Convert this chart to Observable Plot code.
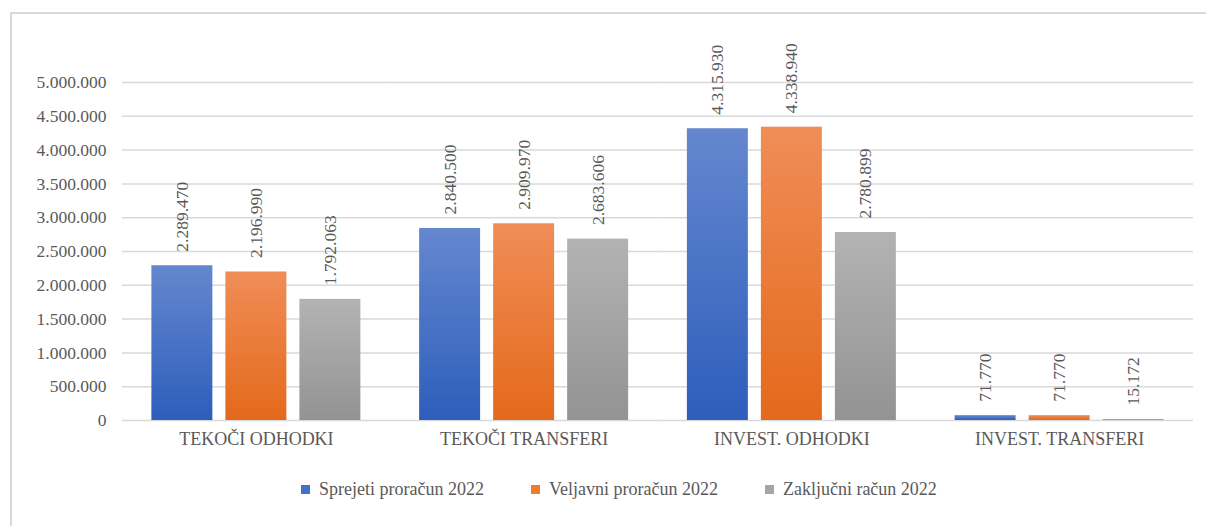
<!DOCTYPE html>
<html>
<head>
<meta charset="utf-8">
<script src="https://cdn.jsdelivr.net/npm/d3@7"></script>
<script src="https://cdn.jsdelivr.net/npm/@observablehq/plot@0.6"></script>
<style>
  html, body { margin: 0; padding: 0; background: #fff; overflow: hidden; width: 1206px; height: 526px; }
  #frame { position: absolute; left: 10px; top: 12px; width: 1400px; height: 700px;
           border-top: 2px solid #d9d9d9; border-left: 2px solid #d9d9d9; box-sizing: border-box; }
  #chart { position: absolute; left: 0; top: 0; }
  #chart svg, #chart svg text { font-family: 'Liberation Serif', 'Tinos', 'Times New Roman', serif !important; }
  #legend { position: absolute; left: 301px; top: 479px; display: flex; align-items: center;
            font-family: 'Liberation Serif', 'Tinos', 'Times New Roman', serif; font-size: 18px; color: #595959; }
  .item { display: flex; align-items: center; margin-right: 47px; }
  .sw { width: 9px; height: 9px; margin-right: 9px; }
</style>
</head>
<body>
<div id="frame"></div>
<div id="chart"></div>
<div id="legend"></div>
<script>
const categories = ["TEKOČI ODHODKI", "TEKOČI TRANSFERI", "INVEST. ODHODKI", "INVEST. TRANSFERI"];
const seriesNames = ["Sprejeti proračun 2022", "Veljavni proračun 2022", "Zaključni račun 2022"];
const sprejeti = [2289470, 2840500, 4315930, 71770];
const veljavni = [2196990, 2909970, 4338940, 71770];
const zakljucni = [1792063, 2683606, 2780899, 15172];
const yTicks = [0, 500000, 1000000, 1500000, 2000000, 2500000, 3000000, 3500000, 4000000, 4500000, 5000000];
const swatchColors = ["#4472c4", "#ed7d31", "#a5a5a5"];
const gradIds = ["gBlue", "gOrange", "gGray"];

const seriesValues = [sprejeti, veljavni, zakljucni];
const rows = [];
categories.forEach((c, i) => {
  seriesNames.forEach((s, j) => rows.push({cat: c, series: s, value: seriesValues[j][i]}));
});

const fmt = d3.formatLocale({decimal: ",", thousands: ".", grouping: [3], currency: ["", ""]}).format(",");
const textColor = "#595959";

const plot = Plot.plot({
  width: 1206,
  height: 460,
  marginLeft: 122,
  marginRight: 13,
  marginTop: 82,
  marginBottom: 40,
  style: {fontSize: "18px", color: textColor, background: "transparent"},
  fx: {domain: categories, padding: 0, round: false, axis: "bottom", label: null, tickSize: 0, tickPadding: 12},
  x: {domain: seriesNames, axis: null, round: false, paddingInner: 0.176, paddingOuter: 0.397},
  y: {domain: [0, 5000000], axis: null},
  color: {domain: seriesNames, range: gradIds.map(id => `url(#${id})`)},
  marks: [
    Plot.ruleY(yTicks, {stroke: "#d9d9d9", strokeWidth: 1.5}),
    Plot.barY(rows, {fx: "cat", x: "series", y: "value", fill: "series"}),
    Plot.text(rows, {fx: "cat", x: "series", y: "value", text: d => fmt(d.value), rotate: -90,
      textAnchor: "start", lineAnchor: "middle", dy: -14, fill: textColor, fontSize: 17.5}),
    Plot.axisY(yTicks, {tickSize: 0, tickPadding: 16, tickFormat: fmt, fontSize: 17.5, fill: textColor, label: null})
  ]
});

const defs = document.createElementNS("http://www.w3.org/2000/svg", "defs");
defs.innerHTML = `
  <linearGradient id="gBlue" x1="0" y1="0" x2="0" y2="1">
    <stop offset="0" stop-color="#6587cf"/><stop offset="1" stop-color="#2d5ebb"/></linearGradient>
  <linearGradient id="gOrange" x1="0" y1="0" x2="0" y2="1">
    <stop offset="0" stop-color="#f08d57"/><stop offset="1" stop-color="#e4691b"/></linearGradient>
  <linearGradient id="gGray" x1="0" y1="0" x2="0" y2="1">
    <stop offset="0" stop-color="#b3b3b3"/><stop offset="1" stop-color="#939393"/></linearGradient>`;
plot.insertBefore(defs, plot.firstChild);
document.getElementById("chart").appendChild(plot);

const legend = document.getElementById("legend");
seriesNames.forEach((s, j) => {
  const item = document.createElement("div");
  item.className = "item";
  const sw = document.createElement("div");
  sw.className = "sw";
  sw.style.background = swatchColors[j];
  const t = document.createElement("span");
  t.textContent = s;
  item.appendChild(sw); item.appendChild(t);
  legend.appendChild(item);
});
</script>
</body>
</html>
